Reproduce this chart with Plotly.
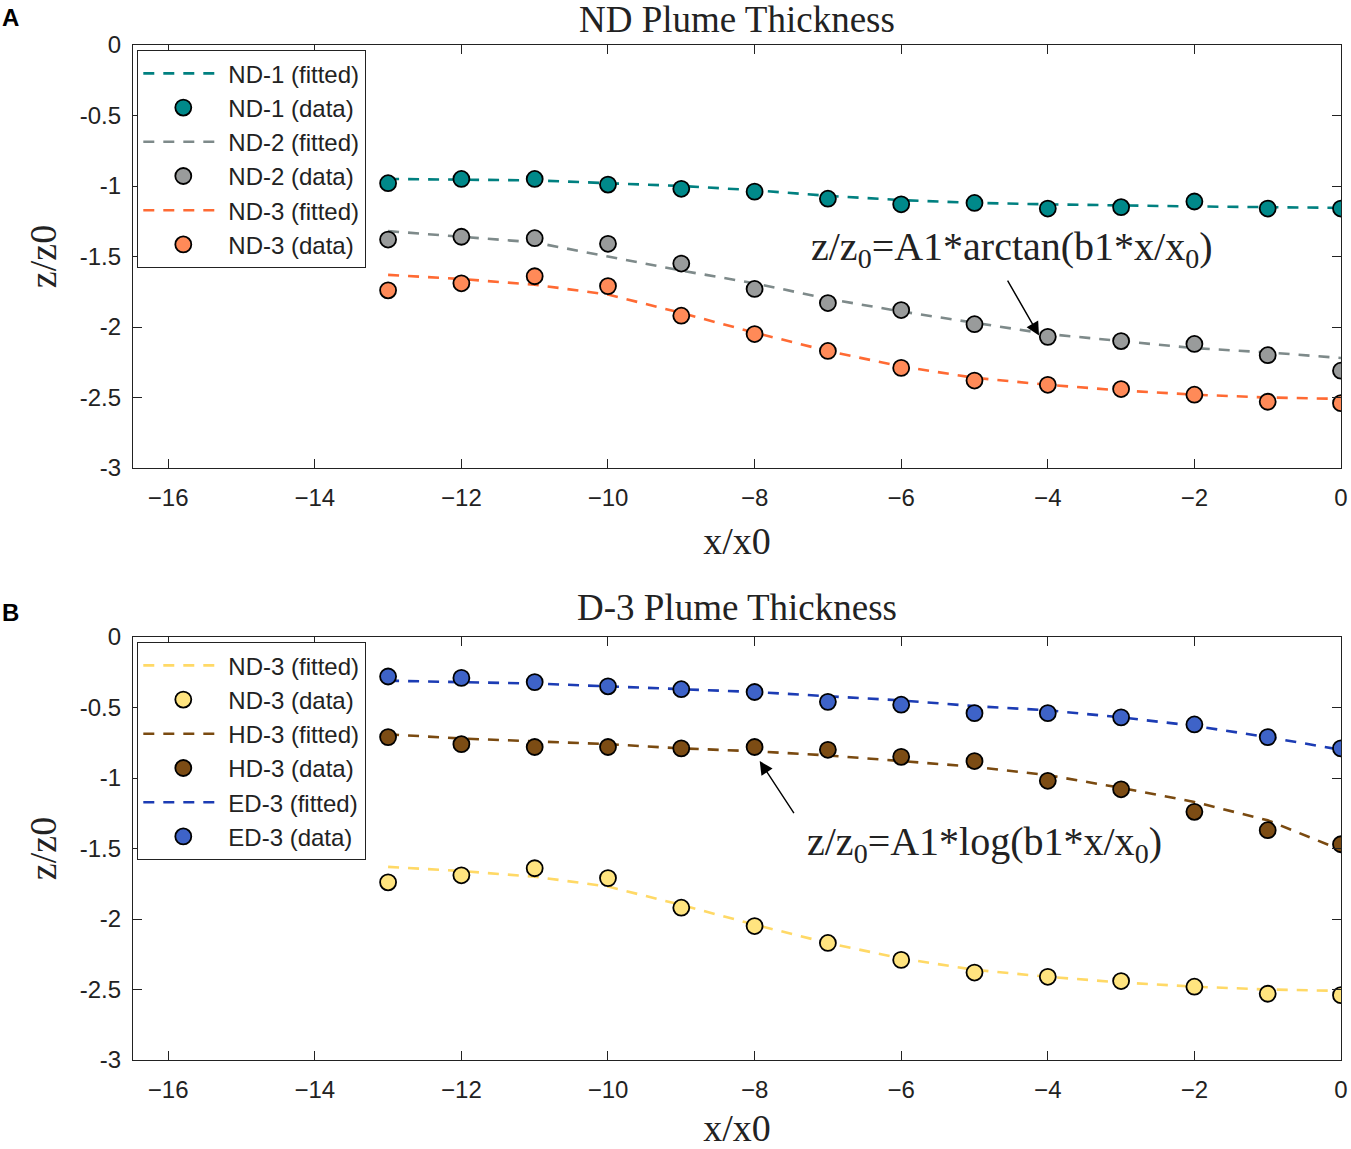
import plotly.graph_objects as go

# ---------------- data ----------------
x_pts = [-13, -12, -11, -10, -9, -8, -7, -6, -5, -4, -3, -2, -1, 0]

# Panel A
nd1_data = [-0.98, -0.95, -0.95, -0.99, -1.02, -1.04, -1.09, -1.13, -1.12, -1.16, -1.15, -1.11, -1.16, -1.16]
nd1_fit = [-0.95, -0.955, -0.96, -0.98, -1.00, -1.03, -1.07, -1.10, -1.12, -1.13, -1.14, -1.145, -1.15, -1.155]
nd2_data = [-1.38, -1.36, -1.37, -1.41, -1.55, -1.73, -1.83, -1.88, -1.98, -2.07, -2.10, -2.12, -2.20, -2.31]
nd2_fit = [-1.32, -1.36, -1.40, -1.50, -1.60, -1.69, -1.80, -1.89, -1.97, -2.05, -2.10, -2.15, -2.18, -2.22]
nd3_data = [-1.74, -1.69, -1.64, -1.71, -1.92, -2.05, -2.17, -2.29, -2.38, -2.41, -2.44, -2.48, -2.53, -2.54]
nd3_fit = [-1.63, -1.66, -1.70, -1.77, -1.90, -2.04, -2.17, -2.28, -2.36, -2.41, -2.45, -2.48, -2.50, -2.51]

# Panel B
ed3_data = [-0.28, -0.29, -0.32, -0.35, -0.37, -0.39, -0.46, -0.48, -0.54, -0.54, -0.57, -0.62, -0.71, -0.79]
ed3_fit = [-0.31, -0.32, -0.33, -0.35, -0.37, -0.39, -0.42, -0.45, -0.49, -0.52, -0.57, -0.63, -0.71, -0.80]
hd3_data = [-0.71, -0.76, -0.78, -0.78, -0.79, -0.78, -0.80, -0.85, -0.88, -1.02, -1.08, -1.24, -1.37, -1.47]
hd3_fit = [-0.69, -0.72, -0.74, -0.76, -0.79, -0.81, -0.84, -0.88, -0.92, -0.98, -1.07, -1.17, -1.30, -1.51]

x_ticks = [-16, -14, -12, -10, -8, -6, -4, -2, 0]
y_ticks = [0, -0.5, -1, -1.5, -2, -2.5, -3]
y_tick_text = ["0", "-0.5", "-1", "-1.5", "-2", "-2.5", "-3"]

fig = go.Figure()


def add_pair(name, fit, data, lcol, fcol, xa, ya, legend):
    fig.add_trace(go.Scatter(
        x=x_pts, y=fit, mode="lines", name=f"{name} (fitted)",
        line=dict(color=lcol, width=2.6, dash="11px,9px"),
        xaxis=xa, yaxis=ya, legend=legend))
    fig.add_trace(go.Scatter(
        x=x_pts, y=data, mode="markers", name=f"{name} (data)",
        marker=dict(color=fcol, size=16, line=dict(color="black", width=1.8)),
        xaxis=xa, yaxis=ya, legend=legend))


add_pair("ND-1", nd1_fit, nd1_data, "#008080", "#00898A", "x", "y", "legend")
add_pair("ND-2", nd2_fit, nd2_data, "#7E8A8A", "#999B9B", "x", "y", "legend")
add_pair("ND-3", nd3_fit, nd3_data, "#FF6A33", "#FF8A58", "x", "y", "legend")

add_pair("ND-3", nd3_fit, nd3_data, "#FFD966", "#FFE47F", "x2", "y2", "legend2")
add_pair("HD-3", hd3_fit, hd3_data, "#7A4A10", "#7C4C14", "x2", "y2", "legend2")
add_pair("ED-3", ed3_fit, ed3_data, "#1C3CB4", "#3E63C8", "x2", "y2", "legend2")

W, H = 1351, 1149


def px(x):
    return x / W


def py(y):
    return 1 - y / H


xdom = [px(133), px(1341)]
ydom_top = [py(468), py(45)]
ydom_bot = [py(1060), py(637)]

tickfont = dict(family="Liberation Sans, Arial", size=24, color="#222")
titlefont = dict(family="Liberation Serif, Times New Roman", size=38, color="#222")

xaxis_common = dict(range=[-16.48, 0], tickvals=x_ticks, ticks="inside", ticklen=9,
                    tickcolor="#222", tickwidth=1.3, showline=True, linecolor="#222",
                    linewidth=1.3, mirror="ticks", showgrid=False, zeroline=False,
                    tickfont=tickfont, ticklabelstandoff=8, ticklabeloverflow="allow",
                    title=dict(text="x/x0", font=titlefont, standoff=17))
yaxis_common = dict(range=[-3, 0], tickvals=y_ticks, ticktext=y_tick_text, ticks="inside",
                    ticklen=9, tickcolor="#222", tickwidth=1.3, showline=True,
                    linecolor="#222", linewidth=1.3, mirror="ticks", showgrid=False,
                    zeroline=False, tickfont=tickfont, ticklabelstandoff=6,
                    ticklabeloverflow="allow",
                    title=dict(text="z/z0", font=titlefont, standoff=11))

legend_common = dict(bgcolor="white", bordercolor="#222", borderwidth=1.3,
                     font=dict(family="Liberation Sans, Arial", size=24, color="#222"),
                     xanchor="left", yanchor="top", tracegroupgap=0, itemwidth=80,
                     traceorder="normal")

fig.update_layout(
    width=W, height=H,
    margin=dict(l=0, r=0, t=0, b=0, autoexpand=False),
    paper_bgcolor="white", plot_bgcolor="white",
    xaxis=dict(domain=xdom, anchor="y", **xaxis_common),
    yaxis=dict(domain=ydom_top, anchor="x", **yaxis_common),
    xaxis2=dict(domain=xdom, anchor="y2", **xaxis_common),
    yaxis2=dict(domain=ydom_bot, anchor="x2", **yaxis_common),
    legend=dict(x=px(137), y=py(50), **legend_common),
    legend2=dict(x=px(137), y=py(642), **legend_common),
    showlegend=True,
)

serif = "Liberation Serif, Times New Roman"
xmid = 0.5 * (xdom[0] + xdom[1])
annotations = [
    dict(text="ND Plume Thickness", x=xmid, y=py(19), xref="paper", yref="paper",
         xanchor="center", yanchor="middle", showarrow=False,
         font=dict(family=serif, size=37, color="#222")),
    dict(text="D-3 Plume Thickness", x=xmid, y=py(607), xref="paper", yref="paper",
         xanchor="center", yanchor="middle", showarrow=False,
         font=dict(family=serif, size=37, color="#222")),
    dict(text="<b>A</b>", x=0, y=py(18), xref="paper", yref="paper",
         xanchor="left", yanchor="middle", showarrow=False,
         font=dict(family="Liberation Sans, Arial", size=24, color="black")),
    dict(text="<b>B</b>", x=0, y=py(612), xref="paper", yref="paper",
         xanchor="left", yanchor="middle", showarrow=False,
         font=dict(family="Liberation Sans, Arial", size=24, color="black")),
    # formula texts
    dict(text="z/z<sub>0</sub>=A1*arctan(b1*x/x<sub>0</sub>)", x=-4.49, y=-1.45,
         xref="x", yref="y", xanchor="center", yanchor="middle", showarrow=False,
         font=dict(family=serif, size=40, color="#222")),
    dict(text="z/z<sub>0</sub>=A1*log(b1*x/x<sub>0</sub>)", x=-4.86, y=-1.47,
         xref="x2", yref="y2", xanchor="center", yanchor="middle", showarrow=False,
         font=dict(family=serif, size=40, color="#222")),
    # arrows
    dict(x=-4.12, y=-2.06, ax=-4.56, ay=-1.66, xref="x", yref="y", axref="x", ayref="y",
         text="", showarrow=True, arrowhead=2, arrowsize=1.9, arrowwidth=1.4,
         arrowcolor="black"),
    dict(x=-7.93, y=-0.88, ax=-7.45, ay=-1.26, xref="x2", yref="y2", axref="x2", ayref="y2",
         text="", showarrow=True, arrowhead=2, arrowsize=1.9, arrowwidth=1.4,
         arrowcolor="black"),
]
fig.update_layout(annotations=annotations)

fig.write_html(
    "out.html",
    config={"displayModeBar": False},
    default_width=f"{W}px",
    default_height=f"{H}px",
    post_script="document.body.style.margin='0';document.body.style.overflow='hidden';",
)
